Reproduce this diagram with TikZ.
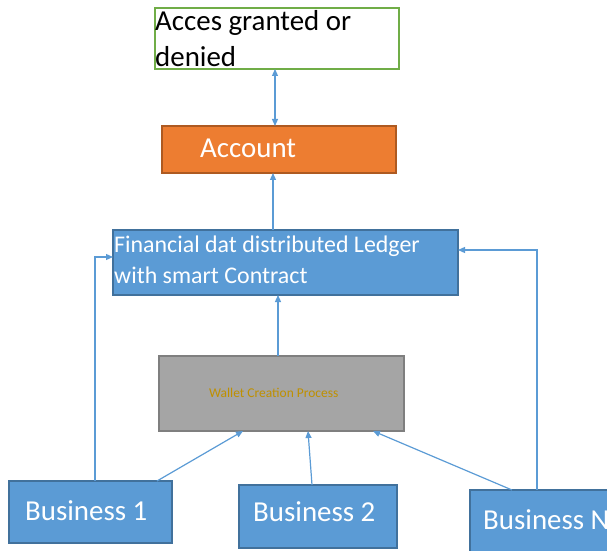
\documentclass[tikz,border=0pt]{standalone}
\usepackage{fontspec}
\setmainfont{Carlito}
\usetikzlibrary{arrows.meta}
\definecolor{bfill}{HTML}{5B9BD5}
\definecolor{bline}{HTML}{41719C}
\definecolor{ofill}{HTML}{ED7D31}
\definecolor{oline}{HTML}{AE5A21}
\definecolor{gfill}{HTML}{A5A5A5}
\definecolor{gline}{HTML}{7F7F7F}
\definecolor{agreen}{HTML}{70AD47}
\definecolor{gold}{HTML}{BF9000}
\begin{document}
\begin{tikzpicture}[x=1bp,y=-1bp,
  box/.style={line width=2bp, inner sep=0pt, outer sep=0pt, anchor=north west},
  bluebox/.style={box, draw=bline, fill=bfill},
  txt/.style={anchor=base west, inner sep=0pt},
  bigtxt/.style={txt, font=\fontsize{29}{36}\selectfont},
  tip/.style={Triangle[length=7bp,width=6bp]},
  conn/.style={draw=bfill, line width=1.2bp, -{Triangle[length=7bp,width=6bp]}}]
\useasboundingbox (0,0) rectangle (607,551);
\clip (0,0) rectangle (607,551);
% boxes
\node[box, draw=agreen, fill=white, minimum width=244bp, minimum height=61bp] (acc) at (155,8) {};
\node[box, draw=oline, fill=ofill, minimum width=234bp, minimum height=47bp] (account) at (162,126) {};
\node[bluebox, minimum width=345bp, minimum height=65bp] (ledger) at (113,230) {};
\node[box, draw=gline, fill=gfill, minimum width=245bp, minimum height=75bp] (wallet) at (159,356) {};
\node[bluebox, minimum width=163bp, minimum height=62bp] (b1) at (9,481) {};
\node[bluebox, minimum width=158bp, minimum height=63bp] (b2) at (239,485) {};
\node[bluebox, minimum width=160bp, minimum height=70bp] (bn) at (470,490) {};
% texts
\node[bigtxt] (acct1) at (155,31) {Acces granted or};
\node[bigtxt] (acct2) at (155,67) {denied};
\node[bigtxt, text=white] (accountt) at (200,158) {Account};
\node[txt, text=white, font=\fontsize{24}{30}\selectfont] (ledgert1) at (114,252) {Financial dat distributed Ledger};
\node[txt, text=white, font=\fontsize{24}{30}\selectfont] (ledgert2) at (114,283) {with smart Contract};
\node[txt, text=gold, font=\fontsize{13.5}{16}\selectfont] (wallett) at (209,397) {Wallet Creation Process};
\node[bigtxt, text=white] (b1t) at (25,520) {Business 1};
\node[bigtxt, text=white] (b2t) at (253,521) {Business 2};
\node[bigtxt, text=white] (bnt) at (483,529) {Business N};
% helper coordinates
\coordinate (xa) at (275,0);
\coordinate (xl) at (273,0);
\coordinate (xw) at (278,0);
\coordinate (xb1s) at (157,0);
\coordinate (xb1e) at (243,0);
\coordinate (xb2s) at (312,0);
\coordinate (xb2e) at (308,0);
\coordinate (xbns) at (512,0);
\coordinate (xbne) at (373,0);
\coordinate (xb1l) at (95,0);
\coordinate (xbnl) at (537,0);
\coordinate (yl1) at (0,257);
\coordinate (yl2) at (0,250);
% connectors
\draw[conn, {Triangle[length=7bp,width=6bp]}-{Triangle[length=7bp,width=6bp]}] (acc.south -| xa) -- (account.north -| xa);
\draw[conn] (ledger.north -| xl) -- (account.south -| xl);
\draw[conn] (wallet.north -| xw) -- (ledger.south -| xw);
\draw[conn] (b1.north -| xb1s) -- (wallet.south -| xb1e);
\draw[conn] (b2.north -| xb2s) -- (wallet.south -| xb2e);
\draw[conn] (bn.north -| xbns) -- (wallet.south -| xbne);
\draw[conn] (b1.north -| xb1l) |- (ledger.west |- yl1);
\draw[conn] (bn.north -| xbnl) |- (ledger.east |- yl2);
\end{tikzpicture}
\end{document}
